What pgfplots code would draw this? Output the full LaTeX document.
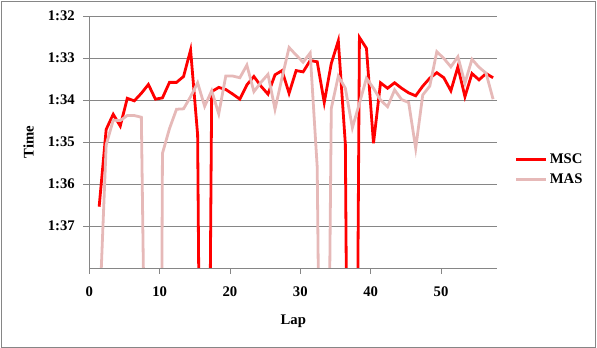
\documentclass[border=0pt]{standalone}
\usepackage{fontspec}
\setmainfont{Liberation Serif}
\usepackage{pgfplots}
\pgfplotsset{compat=1.18}
\definecolor{msc}{RGB}{255,0,0}
\definecolor{mas}{RGB}{230,185,184}
\definecolor{gridgray}{RGB}{134,134,134}
\begin{document}
\begin{tikzpicture}[x=1pt,y=1pt]
\useasboundingbox (-89.3,-80) rectangle (507.7,268);
\draw[gridgray, line width=0.8pt] (-88.3,-79) rectangle (506.5,267);
\begin{axis}[
  at={(0,0)}, anchor=south west,
  width=408pt, height=252pt, scale only axis,
  xmin=0, xmax=58, ymin=92, ymax=98, y dir=reverse,
  axis line style={draw=none},
  xtick={0,10,...,50}, ytick={92,...,97},
  yticklabels={1:32,1:33,1:34,1:35,1:36,1:37},
  tick align=outside, major tick length=6pt,
  xtick pos=left, ytick pos=left,
  tick style={gridgray, line width=0.8pt},
  xtick style={draw=none},
  ymajorgrids, grid style={gridgray, line width=0.8pt},
  /pgf/number format/assume math mode=true,
  ticklabel style={font=\bfseries\fontsize{14.7}{17}\selectfont},
  yticklabel style={xshift=-5pt},
  xticklabel style={yshift=-9pt},
  label style={font=\bfseries\fontsize{14.7}{17}\selectfont},
  xlabel={Lap}, ylabel={Time},
  xlabel style={at={(axis description cs:0.5,-0.21)}, anchor=center},
  ylabel style={at={(axis description cs:-0.149,0.5)}, anchor=center},
  legend style={at={(axis description cs:1.043,0.39)}, anchor=west, draw=none, fill=none,
    font=\bfseries\fontsize{14.7}{17}\selectfont, row sep=5pt, inner sep=0pt},
  legend cell align=left,
  legend image code/.code={\draw[#1] (0pt,0pt) -- (30pt,0pt);},
]
\addplot[msc, line width=2.8pt] coordinates {
(1.4,96.54) (2.4,94.70) (3.4,94.34) (4.4,94.62) (5.4,93.96) (6.4,94.02) (7.4,93.84) (8.4,93.63) (9.4,93.98) (10.4,93.95)
(11.4,93.58) (12.4,93.58) (13.4,93.44) (14.4,92.81) (15.4,94.83) (16.4,116) (17.4,93.80) (18.4,93.70) (19.4,93.75) (20.4,93.86)
(21.4,93.98) (22.4,93.64) (23.4,93.44) (24.4,93.67) (25.4,93.86) (26.4,93.40) (27.4,93.30) (28.4,93.84) (29.4,93.30) (30.4,93.33)
(31.4,93.06) (32.4,93.09) (33.4,94.06) (34.4,93.13) (35.4,92.59) (36.4,95.05) (37.4,118) (38.4,92.51) (39.4,92.77) (40.4,95.03)
(41.4,93.59) (42.4,93.72) (43.4,93.59) (44.4,93.72) (45.4,93.83) (46.4,93.90) (47.4,93.67) (48.4,93.48) (49.4,93.35) (50.4,93.47)
(51.4,93.78) (52.4,93.21) (53.4,93.92) (54.4,93.37) (55.4,93.52) (56.4,93.37) (57.4,93.47)
};
\addlegendentry{MSC}
\addplot[mas, line width=2.8pt] coordinates {
(1.4,99.3) (2.4,95.07) (3.4,94.48) (4.4,94.49) (5.4,94.37) (6.4,94.37) (7.4,94.41) (8.4,107) (9.4,130) (10.4,95.27)
(11.4,94.68) (12.4,94.22) (13.4,94.21) (14.4,93.92) (15.4,93.59) (16.4,94.15) (17.4,93.78) (18.4,94.33) (19.4,93.43) (20.4,93.43)
(21.4,93.47) (22.4,93.17) (23.4,93.80) (24.4,93.58) (25.4,93.39) (26.4,94.22) (27.4,93.47) (28.4,92.75) (29.4,92.93) (30.4,93.10)
(31.4,92.88) (32.4,95.6) (33.4,112) (34.4,94.2) (35.4,93.43) (36.4,93.72) (37.4,94.66) (38.4,94.08) (39.4,93.48) (40.4,93.72)
(41.4,94.00) (42.4,94.16) (43.4,93.76) (44.4,93.99) (45.4,94.06) (46.4,95.15) (47.4,93.88) (48.4,93.67) (49.4,92.85) (50.4,93.01)
(51.4,93.21) (52.4,92.97) (53.4,93.60) (54.4,93.03) (55.4,93.22) (56.4,93.36) (57.4,93.98)
};
\addlegendentry{MAS}
\end{axis}
\draw[gridgray, line width=0.8pt] (0,0) -- (0,252);
\draw[gridgray, line width=0.8pt] (0,0) -- (408,0);
\foreach \k in {0,10,...,50} \draw[gridgray, line width=0.8pt] ({\k/58*408},0) -- ({\k/58*408},-6);
\end{tikzpicture}
\end{document}
